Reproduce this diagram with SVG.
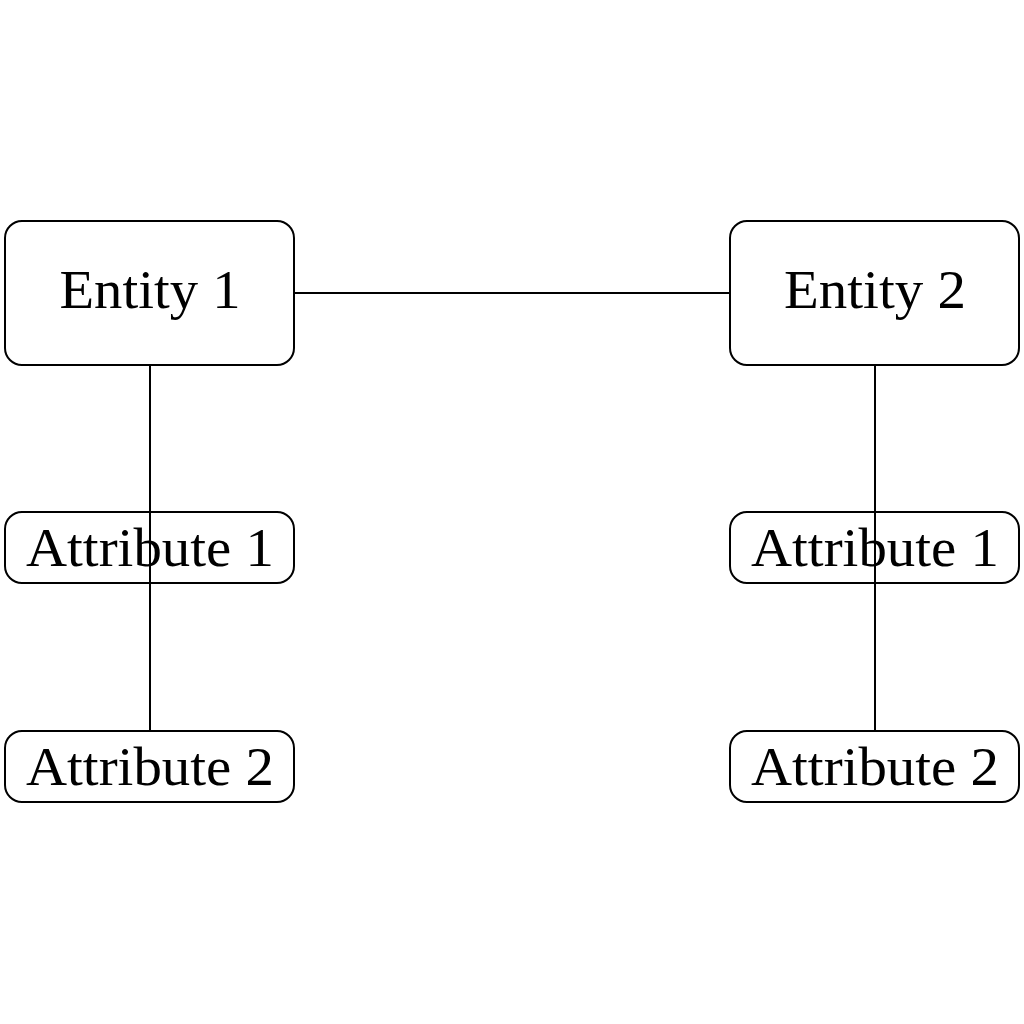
<svg xmlns="http://www.w3.org/2000/svg" width="1024" height="1024" viewBox="0 0 1024 1024">
<style>
.box{fill:#fff;stroke:#000;stroke-width:2}
.lbl{font-family:"Liberation Serif","DejaVu Serif",serif;font-size:54px;text-anchor:middle;fill:#000}
.edge{stroke:#000;stroke-width:2;fill:none}
</style>
<rect width="1024" height="1024" fill="#fff"/>
<g id="connectors">
<line class="edge" x1="294" y1="293" x2="730" y2="293"/>
<line class="edge" x1="150" y1="365" x2="150" y2="731"/>
<line class="edge" x1="875" y1="365" x2="875" y2="731"/>
</g>
<g id="entity1">
<rect class="box" x="5" y="221" width="289" height="144" rx="17"/>
<text class="lbl" x="150" y="308" textLength="181" lengthAdjust="spacingAndGlyphs">Entity 1</text>
</g>
<g id="entity2">
<rect class="box" x="730" y="221" width="289" height="144" rx="17"/>
<text class="lbl" x="875" y="308" textLength="182" lengthAdjust="spacingAndGlyphs">Entity 2</text>
</g>
<g id="e1-attr1">
<rect class="box" x="5" y="512" width="289" height="71" rx="17" fill-opacity="0"/>
<text class="lbl" x="150" y="566" textLength="248" lengthAdjust="spacingAndGlyphs">Attribute 1</text>
</g>
<g id="e1-attr2">
<rect class="box" x="5" y="731" width="289" height="71" rx="17"/>
<text class="lbl" x="150" y="785" textLength="248" lengthAdjust="spacingAndGlyphs">Attribute 2</text>
</g>
<g id="e2-attr1">
<rect class="box" x="730" y="512" width="289" height="71" rx="17" fill-opacity="0"/>
<text class="lbl" x="875" y="566" textLength="248" lengthAdjust="spacingAndGlyphs">Attribute 1</text>
</g>
<g id="e2-attr2">
<rect class="box" x="730" y="731" width="289" height="71" rx="17"/>
<text class="lbl" x="875" y="785" textLength="248" lengthAdjust="spacingAndGlyphs">Attribute 2</text>
</g>
</svg>
